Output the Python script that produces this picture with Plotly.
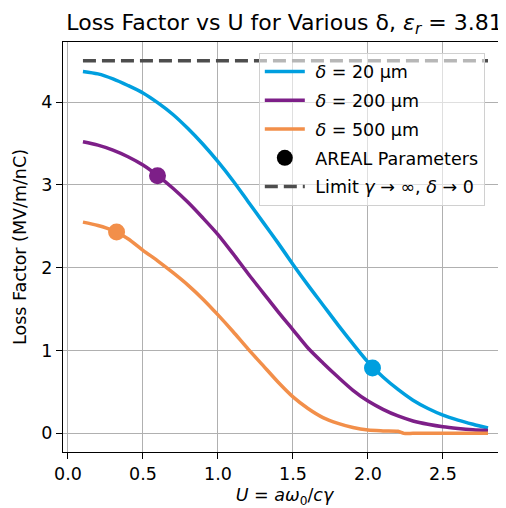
import plotly.graph_objects as go

# Palette
BLUE = "#009fdf"
PURPLE = "#7d1f88"
ORANGE = "#f28f4a"
DARK = "#4d4d4d"
FONT = "DejaVu Sans"
GAP = "\u00a0"  # small extra gap between legend symbol and text

# Loss factor curves, U = a*w0/(c*gamma)
u_grid = [0.1, 0.2, 0.3, 0.4, 0.5, 0.6, 0.7, 0.8, 0.9, 1.0, 1.1, 1.2, 1.3, 1.4,
          1.5, 1.6, 1.7, 1.8, 1.9, 2.0, 2.1, 2.2, 2.3, 2.4, 2.5, 2.6, 2.7, 2.8]

k_20 = [4.37, 4.34, 4.28, 4.20, 4.11, 3.99, 3.85, 3.68, 3.49, 3.28, 3.05, 2.80, 2.55, 2.30,
        2.04, 1.79, 1.55, 1.31, 1.08, 0.86, 0.68, 0.53, 0.40, 0.30, 0.22, 0.16, 0.11, 0.065]

k_200 = [3.52, 3.48, 3.42, 3.34, 3.24, 3.11, 2.96, 2.79, 2.60, 2.40, 2.17, 1.93, 1.70, 1.47,
         1.25, 1.03, 0.85, 0.68, 0.52, 0.39, 0.29, 0.21, 0.15, 0.11, 0.08, 0.06, 0.045, 0.036]

u_500 = [0.1, 0.2, 0.3, 0.4, 0.5, 0.6, 0.7, 0.8, 0.9, 1.0, 1.1, 1.2, 1.3, 1.4,
         1.5, 1.6, 1.7, 1.8, 1.9, 2.0, 2.1, 2.2, 2.24, 2.3, 2.4, 2.5, 2.6, 2.7, 2.8]
k_500 = [2.55, 2.51, 2.45, 2.35, 2.21, 2.08, 1.94, 1.79, 1.62, 1.43, 1.23, 1.02, 0.82, 0.62,
         0.44, 0.30, 0.19, 0.12, 0.07, 0.04, 0.03, 0.025, 0.0, 0.0, 0.0, 0.0, 0.0, 0.0, 0.0]

# AREAL operating points
areal_u = [2.03, 0.597, 0.324]
areal_k = [0.79, 3.11, 2.43]

# Limit gamma -> inf, delta -> 0
limit_u = [0.1, 2.8]
limit_k = [4.5, 4.5]

curves = [
    (u_grid, k_20, BLUE, "<i>δ</i> = 20 μm"),
    (u_grid, k_200, PURPLE, "<i>δ</i> = 200 μm"),
    (u_500, k_500, ORANGE, "<i>δ</i> = 500 μm"),
]

fig = go.Figure()

fig.add_trace(go.Scatter(
    x=limit_u, y=limit_k, mode="lines", showlegend=False,
    line=dict(color=DARK, width=3.5, dash="13px,6px"),
))

for i, (u, k, col, name) in enumerate(curves):
    fig.add_trace(go.Scatter(
        x=u, y=k, mode="lines", name=GAP + name, legendgroup=f"g{i}",
        line=dict(color=col, width=3.5, shape="spline", smoothing=0.8),
    ))

for i, (u, k, col, name) in enumerate(curves):
    fig.add_trace(go.Scatter(
        x=[areal_u[i]], y=[areal_k[i]], mode="markers", showlegend=False,
        marker=dict(color=col, size=17, line_width=0),
    ))

# legend-only entries
fig.add_trace(go.Scatter(
    x=[None], y=[None], mode="markers", name=GAP + "AREAL Parameters", legendgroup="g3",
    marker=dict(color="black", size=17),
))
fig.add_trace(go.Scatter(
    x=[None], y=[None], mode="lines", name=GAP + "Limit <i>γ</i> → ∞, <i>δ</i> → 0",
    legendgroup="g4", line=dict(color=DARK, width=3.5, dash="13px,6px"),
))

axis_common = dict(
    showline=True, linecolor="black", linewidth=1.3,
    ticks="outside", ticklen=6, tickwidth=1.3, tickcolor="black",
    showgrid=True, gridcolor="#b0b0b0", gridwidth=1.3, zeroline=False,
    tickfont=dict(size=17.5, color="black"), automargin=False,
)

# page body adds an 8px offset, so the figure is 8px smaller than the window
fig.update_layout(
    width=498, height=500,
    margin=dict(l=55, r=0, t=34, b=56),
    plot_bgcolor="white", paper_bgcolor="white",
    font=dict(family=FONT, color="black", size=17.5),
    title=dict(
        text="Loss Factor vs U for Various δ, <i>ε<sub>r</sub></i> = 3.81",
        x=0.5, xref="paper", xanchor="center",
        y=1 - 14 / 500, yref="container", yanchor="middle",
        font=dict(size=22), automargin=False,
    ),
    legend=dict(
        x=0.442, y=0.974, xanchor="left", yanchor="top",
        bgcolor="rgba(255,255,255,0.6)", bordercolor="#d0d0d0", borderwidth=1,
        font=dict(size=17.5), tracegroupgap=3, itemwidth=40,
    ),
    showlegend=True,
)

fig.update_xaxes(
    range=[-0.033, 2.92], tickvals=[0, 0.5, 1.0, 1.5, 2.0, 2.5], tickformat=".1f",
    mirror=True,
    title=dict(text="<i>U</i> = <i>aω</i><sub>0</sub>/<i>cγ</i>", standoff=13,
               font=dict(size=17.5)),
    **axis_common,
)
fig.update_yaxes(
    range=[-0.225, 4.725], tickvals=[0, 1, 2, 3, 4],
    title=dict(text="Loss Factor (MV/m/nC)", standoff=10, font=dict(size=17.5)),
    **axis_common,
)

fig.write_html("out.html")
